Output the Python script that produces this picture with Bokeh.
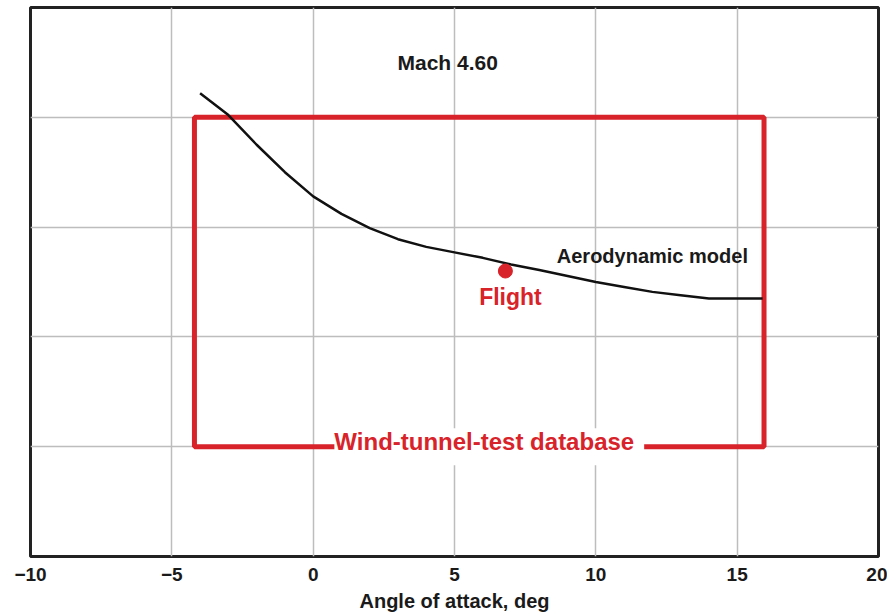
from bokeh.plotting import figure
from bokeh.models import FixedTicker, Range1d
from bokeh.core.properties import value
from bokeh.embed import file_html
from bokeh.resources import INLINE

# Data
aoa = [-4, -3, -2, -1, 0, 1, 2, 3, 4, 5, 6, 7, 8, 9, 10, 11, 12, 13, 14, 15, 15.9]
model = [4.22, 4.02, 3.75, 3.50, 3.28, 3.12, 2.99, 2.89, 2.82, 2.77, 2.72, 2.66,
         2.61, 2.555, 2.50, 2.455, 2.41, 2.38, 2.35, 2.35, 2.35]
flight_aoa = [6.8]
flight_val = [2.60]
db_left, db_right, db_bottom, db_top = [-4.2], [15.95], [1.0], [4.0]
x_ticks = [-10, -5, 0, 5, 10, 15, 20]
y_grid = [1, 2, 3, 4]

RED = "#d8232a"
FONT = "Liberation Sans"

p = figure(frame_width=848, frame_height=549, x_range=Range1d(-10, 20), y_range=Range1d(0, 5),
           output_backend="svg", toolbar_location=None,
           min_border_left=30, min_border_top=7, min_border_right=9)
p.outline_line_color = "#222222"
p.outline_line_width = 3
p.background_fill_color = "white"

p.xaxis.ticker = FixedTicker(ticks=x_ticks)
p.xaxis.major_label_overrides = {t: (str(t).replace("-", "\u2212")) for t in x_ticks}
p.xaxis.axis_line_color = None
p.xaxis.major_tick_line_color = None
p.xaxis.minor_tick_line_color = None
p.xaxis.major_tick_out = 0
p.xaxis.major_tick_in = 0
p.xaxis.major_label_standoff = 11
p.xaxis.major_label_text_font = FONT
p.xaxis.major_label_text_font_style = "bold"
p.xaxis.major_label_text_font_size = "19px"
p.xaxis.major_label_text_color = "#1a1a1a"
p.xaxis.axis_label = "Angle of attack, deg"
p.xaxis.axis_label_standoff = 6
p.xaxis.axis_label_text_font = FONT
p.xaxis.axis_label_text_font_style = "bold"
p.xaxis.axis_label_text_font_size = "20px"
p.xaxis.axis_label_text_color = "#1a1a1a"

p.yaxis.ticker = FixedTicker(ticks=y_grid)
p.yaxis.visible = False

p.xgrid.grid_line_color = "#bdbdbd"
p.xgrid.grid_line_width = 1.5
p.ygrid.grid_line_color = "#bdbdbd"
p.ygrid.grid_line_width = 1.5

# Wind-tunnel-test database box
p.quad(left=db_left, right=db_right, bottom=db_bottom, top=db_top,
       fill_color=None, line_color=RED, line_width=5)

# Aerodynamic model curve
p.line(aoa, model, line_color="#111111", line_width=2.5)

# Flight point
p.scatter(flight_aoa, flight_val, size=14, color=RED)

# Labels
p.text(x=[4.76], y=[4.50], text=["Mach 4.60"], text_font=value(FONT), text_font_style="bold",
       text_font_size="21px", text_color="#1a1a1a", text_align="center", text_baseline="middle")
p.text(x=[12.0], y=[2.74], text=["Aerodynamic model"], text_font=value(FONT), text_font_style="bold",
       text_font_size="20px", text_color="#1a1a1a", text_align="center", text_baseline="middle")
p.text(x=[6.98], y=[2.36], text=["Flight"], text_font=value(FONT), text_font_style="bold",
       text_font_size="23px", text_color=RED, text_align="center", text_baseline="middle")
p.text(x=[6.23], y=[1.0], text=["Wind-tunnel-test database"], text_font=value(FONT),
       text_font_style="bold", text_font_size="24px", text_color=RED, text_align="center",
       text_baseline="middle", background_fill_color="white", padding=[0, 10, 0, 10])

open("out.html", "w").write(file_html(p, INLINE))
